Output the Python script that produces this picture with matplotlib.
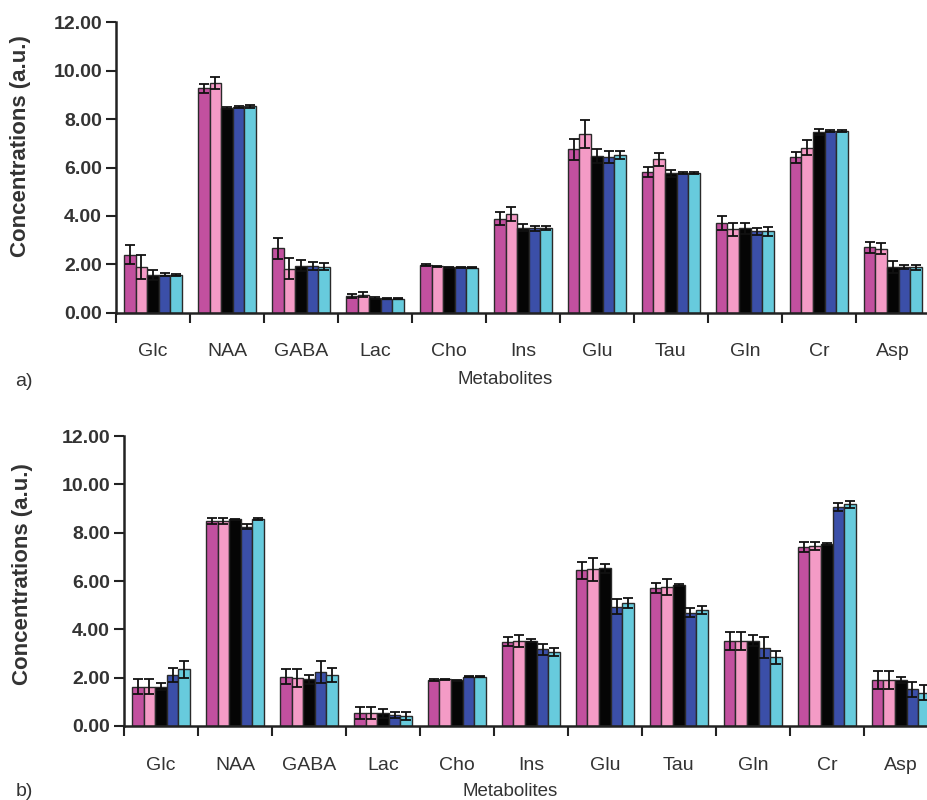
import numpy as np
import matplotlib
matplotlib.use('Agg')
import matplotlib.pyplot as plt

metabolites = ['Glc', 'NAA', 'GABA', 'Lac', 'Cho', 'Ins', 'Glu', 'Tau', 'Gln', 'Cr', 'Asp']

# panel a) - five series per metabolite (means)
a_vals = [
    [2.40, 9.28, 2.67, 0.69, 1.97, 3.88, 6.75, 5.83, 3.73, 6.42, 2.71],
    [1.88, 9.50, 1.82, 0.75, 1.92, 4.08, 7.38, 6.34, 3.46, 6.83, 2.65],
    [1.55, 8.46, 1.95, 0.62, 1.88, 3.52, 6.47, 5.76, 3.50, 7.47, 1.89],
    [1.58, 8.50, 1.93, 0.58, 1.88, 3.50, 6.45, 5.79, 3.36, 7.51, 1.89],
    [1.57, 8.53, 1.90, 0.58, 1.86, 3.50, 6.51, 5.76, 3.36, 7.51, 1.88],
]
a_errs = [
    [0.40, 0.18, 0.44, 0.07, 0.03, 0.27, 0.44, 0.20, 0.29, 0.21, 0.23],
    [0.50, 0.24, 0.44, 0.10, 0.03, 0.30, 0.57, 0.28, 0.27, 0.30, 0.23],
    [0.20, 0.05, 0.24, 0.03, 0.02, 0.14, 0.28, 0.14, 0.23, 0.14, 0.23],
    [0.05, 0.05, 0.17, 0.03, 0.02, 0.10, 0.25, 0.04, 0.16, 0.05, 0.10],
    [0.05, 0.05, 0.15, 0.03, 0.02, 0.08, 0.17, 0.04, 0.18, 0.05, 0.10],
]

# panel b)
b_vals = [
    [1.63, 8.48, 2.04, 0.55, 1.90, 3.49, 6.45, 5.72, 3.53, 7.42, 1.90],
    [1.63, 8.48, 1.97, 0.55, 1.93, 3.53, 6.48, 5.76, 3.53, 7.46, 1.90],
    [1.63, 8.55, 1.93, 0.52, 1.90, 3.53, 6.52, 5.83, 3.53, 7.53, 1.90],
    [2.11, 8.25, 2.25, 0.45, 2.04, 3.17, 4.94, 4.69, 3.24, 9.05, 1.52],
    [2.34, 8.58, 2.11, 0.41, 2.04, 3.05, 5.10, 4.80, 2.84, 9.18, 1.38],
]
b_errs = [
    [0.30, 0.14, 0.30, 0.25, 0.03, 0.20, 0.35, 0.20, 0.37, 0.20, 0.37],
    [0.30, 0.14, 0.37, 0.25, 0.03, 0.25, 0.48, 0.32, 0.37, 0.17, 0.37],
    [0.14, 0.03, 0.18, 0.18, 0.02, 0.05, 0.20, 0.04, 0.23, 0.04, 0.14],
    [0.30, 0.10, 0.45, 0.12, 0.02, 0.22, 0.30, 0.18, 0.43, 0.17, 0.32],
    [0.36, 0.04, 0.30, 0.15, 0.02, 0.16, 0.20, 0.17, 0.28, 0.14, 0.32],
]

colors = ['#c2509f', '#f49bc6', '#050505', '#3b4fa8', '#67cbdd']
txt = '#333333'
fam = 'Liberation Sans'

fig = plt.figure(figsize=(9.28, 8), dpi=100)
ax_a = fig.add_axes([0.125, 0.609, 0.877, 0.363])
ax_b = fig.add_axes([0.1336, 0.0925, 0.877, 0.3625])

bw = 0.157
x = np.arange(len(metabolites)) + 0.5


def draw(ax, vals, errs):
    for j in range(5):
        ax.bar(x + (j - 2) * bw, vals[j], bw, color=colors[j],
               edgecolor='#2a2a2a', linewidth=1.0,
               yerr=errs[j], error_kw=dict(ecolor='#111111', elinewidth=1.3,
                                           capsize=3.5, capthick=1.3))
    ax.set_xlim(0, len(metabolites))
    ax.set_ylim(0, 12)
    ax.set_yticks(np.arange(0, 13, 2))
    ax.set_yticklabels(['%.2f' % v for v in np.arange(0, 13, 2)],
                       fontsize=14, fontweight='bold', family=fam, color=txt)
    ax.set_xticks(np.arange(len(metabolites) + 1))
    ax.set_xticklabels([])
    ax.set_xticks(x, minor=True)
    ax.set_xticklabels(metabolites, minor=True, fontsize=14,
                       family=fam, color=txt)
    ax.tick_params(axis='x', which='minor', length=0, pad=22)
    ax.tick_params(axis='x', which='major', direction='out', length=7,
                   width=1.5, color='#222222')
    ax.tick_params(axis='y', direction='out', length=7, width=1.5,
                   color='#222222', pad=3)
    for s in ['top', 'right']:
        ax.spines[s].set_visible(False)
    for s in ['left', 'bottom']:
        ax.spines[s].set_linewidth(1.8)
        ax.spines[s].set_color('#222222')


draw(ax_a, a_vals, a_errs)
draw(ax_b, b_vals, b_errs)

fig.text(21 / 928, 1 - 146 / 800, 'Concentrations (a.u.)', rotation=90,
         ha='center', va='center', fontsize=16, fontweight='bold',
         family=fam, color=txt)
fig.text(23 / 928, 1 - 574 / 800, 'Concentrations (a.u.)', rotation=90,
         ha='center', va='center', fontsize=16, fontweight='bold',
         family=fam, color=txt)

fig.text(505 / 928, 1 - 379 / 800, 'Metabolites', ha='center', va='center',
         fontsize=13.5, family=fam, color=txt)
fig.text(510 / 928, 1 - 792 / 800, 'Metabolites', ha='center', va='center',
         fontsize=13.5, family=fam, color=txt)
fig.text(24 / 928, 1 - 381 / 800, 'a)', ha='center', va='center',
         fontsize=14, family=fam, color=txt)
fig.text(24 / 928, 1 - 792 / 800, 'b)', ha='center', va='center',
         fontsize=14, family=fam, color=txt)

fig.savefig('out.png', dpi=100)
